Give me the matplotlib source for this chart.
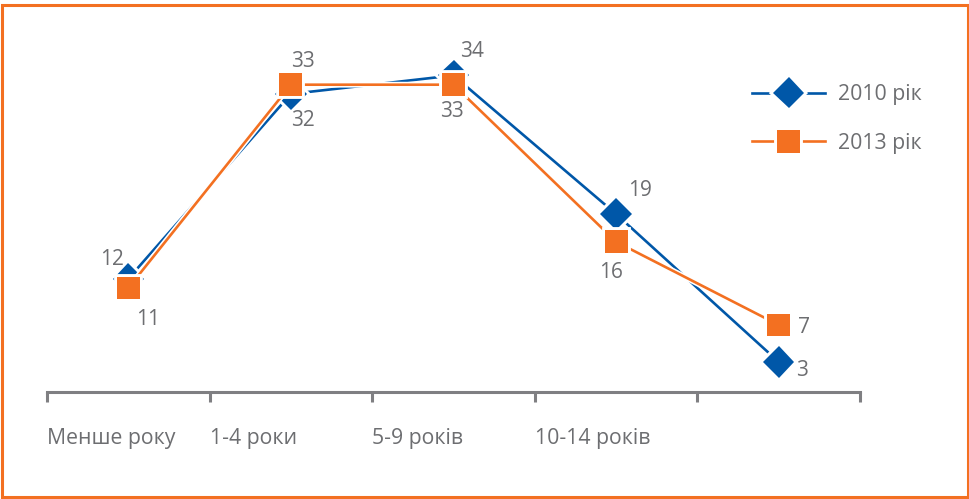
import matplotlib
matplotlib.use("Agg")
import matplotlib.pyplot as plt
import matplotlib.patheffects as pe
from matplotlib.patches import Rectangle

# Data
categories = ["Менше року", "1-4 роки", "5-9 років", "10-14 років", ""]
series_names = ["2010 рік", "2013 рік"]
values_2010 = [12, 32, 34, 19, 3]
values_2013 = [11, 33, 33, 16, 7]

BLUE = "#0057A8"
ORANGE = "#F37021"
TEXT = "#6D6E71"
AXIS = "#7F7F82"

plt.rcParams["font.family"] = ["Open Sans", "DejaVu Sans"]

W, H = 970, 499
fig = plt.figure(figsize=(W / 100, H / 100), dpi=100)

# axes placed in pixel terms
left_px, right_px = 47, 860
bottom_px, top_px = 391.5, 20.0
ax = fig.add_axes([left_px / W, 1 - bottom_px / H,
                   (right_px - left_px) / W, (bottom_px - top_px) / H])
ax.set_xlim(-0.5, len(categories) - 0.5)
ax.set_ylim(-0.2, 40)

x = list(range(len(categories)))
stroke = [pe.Stroke(linewidth=4.2, foreground="white"), pe.Normal()]

ax.plot(x, values_2010, color=BLUE, lw=1.9, marker="D", ms=16,
        markeredgewidth=0, label=series_names[0], zorder=3,
        path_effects=stroke)
ax.plot(x, values_2013, color=ORANGE, lw=1.9, marker="s", ms=16.5,
        markeredgewidth=0, label=series_names[1], zorder=4,
        path_effects=stroke)

# value labels (offsets in points)
off_2010 = [(-12, 14), (9, -19), (13, 17), (17, 17), (17, -6)]
off_2013 = [(14, -23), (9, 17), (-1, -19), (-4, -22), (18, -2)]
for xi, v, (dx, dy) in zip(x, values_2010, off_2010):
    ax.annotate(str(v), (xi, v), xytext=(dx, dy), textcoords="offset points",
                ha="center", va="center", fontsize=15, color=TEXT, zorder=5)
for xi, v, (dx, dy) in zip(x, values_2013, off_2013):
    ax.annotate(str(v), (xi, v), xytext=(dx, dy), textcoords="offset points",
                ha="center", va="center", fontsize=15, color=TEXT, zorder=5)

# category axis: ticks on boundaries, labels left-aligned at each boundary
for s in ["left", "right", "top"]:
    ax.spines[s].set_visible(False)
ax.spines["bottom"].set_color(AXIS)
ax.spines["bottom"].set_linewidth(2.2)
ax.set_yticks([])
bounds = [i - 0.5 for i in range(len(categories) + 1)]
ax.set_xticks(bounds)
ax.set_xticklabels([])
ax.tick_params(axis="x", length=7, width=2.2, color=AXIS, direction="out")
for b, lab in zip(bounds, categories):
    ax.annotate(lab, (b, 0), xycoords=("data", "axes fraction"),
                xytext=(0, -34), textcoords="offset points",
                ha="left", va="center", fontsize=15.3, color=TEXT)

# legend
leg = ax.legend(loc="center left", bbox_to_anchor=(752 / W, 1 - 119 / H),
                bbox_transform=fig.transFigure, frameon=False,
                fontsize=15.3, handlelength=3.45, handletextpad=0.6,
                labelspacing=1.3, borderpad=0, borderaxespad=0,
                labelcolor=TEXT)

# outer frame
fig.patches.append(Rectangle((2.5 / W, 2.5 / H), (966 / W), (H - 7.5) / H,
                             transform=fig.transFigure, fill=False,
                             edgecolor=ORANGE, linewidth=2.2, zorder=10))

fig.savefig("out.png", dpi=100, facecolor="white")
